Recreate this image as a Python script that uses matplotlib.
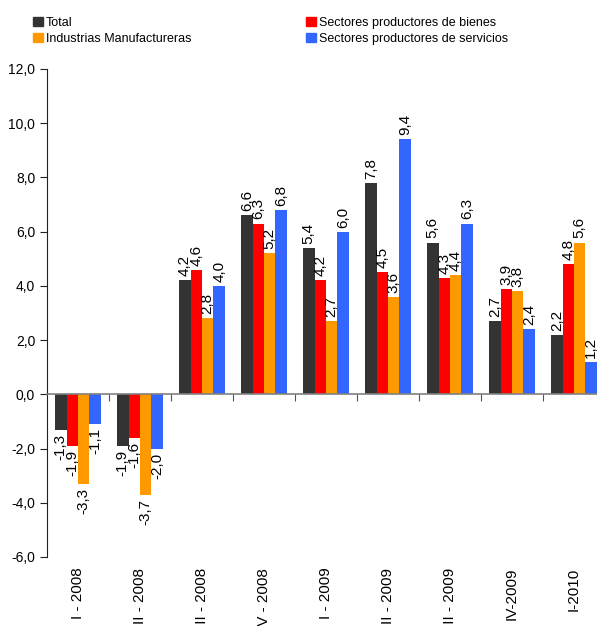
import numpy as np
import matplotlib
matplotlib.use("Agg")
import matplotlib.pyplot as plt
from matplotlib.patches import Patch
from matplotlib.transforms import blended_transform_factory

plt.rcParams["font.family"] = ["Liberation Sans", "DejaVu Sans"]

# Quarterly growth rates (%)
periods = ["I - 2008", "II - 2008", "III - 2008", "IV - 2008", "I - 2009",
           "II - 2009", "III - 2009", "IV-2009", "I-2010"]
total = [-1.3, -1.9, 4.2, 6.6, 5.4, 7.8, 5.6, 2.7, 2.2]
bienes = [-1.9, -1.6, 4.6, 6.3, 4.2, 4.5, 4.3, 3.9, 4.8]
manufactureras = [-3.3, -3.7, 2.8, 5.2, 2.7, 3.6, 4.4, 3.8, 5.6]
servicios = [-1.1, -2.0, 4.0, 6.8, 6.0, 9.4, 6.3, 2.4, 1.2]

series = [
    ("Total", total, "#333333"),
    ("Sectores productores de bienes", bienes, "#ff0000"),
    ("Industrias Manufactureras", manufactureras, "#ff9900"),
    ("Sectores productores de servicios", servicios, "#3366ff"),
]

fig = plt.figure(figsize=(5.97, 6.26), dpi=100)
# plot area runs past the right edge of the figure, last group is cut off
ax = fig.add_axes([47 / 597, 1 - 557 / 626, 558 / 597, (557 - 69) / 626])

x = np.arange(len(periods))
w = 0.185
for k, (name, vals, col) in enumerate(series):
    pos = x + (k - 1.5) * w
    ax.bar(pos, vals, width=w, color=col, linewidth=0)
    for p, v in zip(pos, vals):
        lab = f"{v:.1f}".replace(".", ",")
        if v >= 0:
            ax.text(p, v + 0.15, lab, rotation=90, ha="center", va="bottom", fontsize=11)
        else:
            ax.text(p, v - 0.15, lab, rotation=90, ha="center", va="top", fontsize=11)

ax.set_xlim(-0.5, 8.5)
ax.set_ylim(-6, 12)
ax.set_yticks(np.arange(-6, 13, 2))
ax.set_yticklabels([f"{t:.1f}".replace(".", ",") for t in np.arange(-6, 13, 2)], fontsize=10)

for s in ["top", "right"]:
    ax.spines[s].set_visible(False)
ax.spines["bottom"].set_position(("data", 0))
ax.spines["bottom"].set_color("#808080")
ax.spines["bottom"].set_linewidth(1.2)
ax.spines["left"].set_color("#222222")
ax.set_xticks(np.arange(0.5, len(periods), 1.0))
ax.set_xticklabels([])
ax.tick_params(axis="x", length=5, color="#555555")
ax.tick_params(axis="y", length=5, color="#222222")

# period labels hang from just under the plot; long ones run off the bottom edge
trans = blended_transform_factory(ax.transData, ax.transAxes)
for xi, lab in zip(x, periods):
    ax.text(xi, -0.022, lab, rotation=90, ha="center", va="top", fontsize=11,
            transform=trans)

handles = {name: Patch(color=col) for name, _, col in series}
leg_kw = dict(frameon=False, fontsize=9, handlelength=0.75, handleheight=0.75,
              handletextpad=0.25, labelspacing=0.3, borderpad=0)
fig.legend([handles["Total"], handles["Industrias Manufactureras"]],
           ["Total", "Industrias Manufactureras"],
           loc="upper left", bbox_to_anchor=(27 / 597, 1 - 11 / 626), **leg_kw)
fig.legend([handles["Sectores productores de bienes"], handles["Sectores productores de servicios"]],
           ["Sectores productores de bienes", "Sectores productores de servicios"],
           loc="upper left", bbox_to_anchor=(300 / 597, 1 - 11 / 626), **leg_kw)

fig.savefig("out.png", dpi=100)
